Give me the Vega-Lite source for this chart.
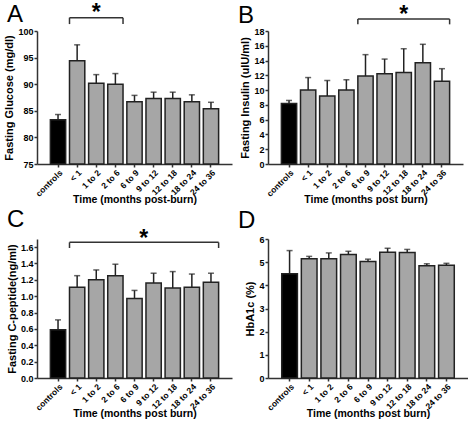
{
  "$schema": "https://vega.github.io/schema/vega-lite/v6.json",
  "autosize": {"type": "pad"},
  "padding": {"left": 3, "top": 2, "right": 0, "bottom": 0},
  "bounds": "flush",
  "columns": 2,
  "spacing": {"row": 75, "column": 36},
  "datasets": {
    "bars": [
      {"panel": "A", "group": "controls", "mean": 83.3, "upper": 84.3},
      {"panel": "A", "group": "< 1", "mean": 94.4, "upper": 97.4},
      {"panel": "A", "group": "1 to 2", "mean": 90.2, "upper": 91.8},
      {"panel": "A", "group": "2 to 6", "mean": 90.0, "upper": 92.0},
      {"panel": "A", "group": "6 to 9", "mean": 86.7, "upper": 87.9},
      {"panel": "A", "group": "9 to 12", "mean": 87.3, "upper": 88.5},
      {"panel": "A", "group": "12 to 18", "mean": 87.3, "upper": 88.5},
      {"panel": "A", "group": "18 to 24", "mean": 86.7, "upper": 88.0},
      {"panel": "A", "group": "24 to 36", "mean": 85.4, "upper": 86.6},
      {"panel": "B", "group": "controls", "mean": 8.2, "upper": 8.6},
      {"panel": "B", "group": "< 1", "mean": 10.0, "upper": 11.7},
      {"panel": "B", "group": "1 to 2", "mean": 9.2, "upper": 11.3},
      {"panel": "B", "group": "2 to 6", "mean": 10.0, "upper": 11.4},
      {"panel": "B", "group": "6 to 9", "mean": 11.9, "upper": 14.8},
      {"panel": "B", "group": "9 to 12", "mean": 12.2, "upper": 14.2},
      {"panel": "B", "group": "12 to 18", "mean": 12.4, "upper": 15.6},
      {"panel": "B", "group": "18 to 24", "mean": 13.7, "upper": 16.2},
      {"panel": "B", "group": "24 to 36", "mean": 11.2, "upper": 12.9},
      {"panel": "C", "group": "controls", "mean": 0.59, "upper": 0.71},
      {"panel": "C", "group": "< 1", "mean": 1.11, "upper": 1.25},
      {"panel": "C", "group": "1 to 2", "mean": 1.20, "upper": 1.32},
      {"panel": "C", "group": "2 to 6", "mean": 1.25, "upper": 1.39},
      {"panel": "C", "group": "6 to 9", "mean": 0.97, "upper": 1.07},
      {"panel": "C", "group": "9 to 12", "mean": 1.16, "upper": 1.28},
      {"panel": "C", "group": "12 to 18", "mean": 1.10, "upper": 1.30},
      {"panel": "C", "group": "18 to 24", "mean": 1.11, "upper": 1.27},
      {"panel": "C", "group": "24 to 36", "mean": 1.17, "upper": 1.28},
      {"panel": "D", "group": "controls", "mean": 4.5, "upper": 5.5},
      {"panel": "D", "group": "< 1", "mean": 5.15, "upper": 5.25},
      {"panel": "D", "group": "1 to 2", "mean": 5.15, "upper": 5.4},
      {"panel": "D", "group": "2 to 6", "mean": 5.33, "upper": 5.47},
      {"panel": "D", "group": "6 to 9", "mean": 5.03, "upper": 5.13},
      {"panel": "D", "group": "9 to 12", "mean": 5.43, "upper": 5.6},
      {"panel": "D", "group": "12 to 18", "mean": 5.42, "upper": 5.55},
      {"panel": "D", "group": "18 to 24", "mean": 4.85, "upper": 4.93},
      {"panel": "D", "group": "24 to 36", "mean": 4.87, "upper": 4.95}
    ],
    "brackets": [
      {"panel": "A", "from": "< 1", "to": "2 to 6", "mid": "1 to 2", "yl": 102.5, "yt": 101.3, "ys": 103.3},
      {"panel": "B", "from": "6 to 9", "to": "24 to 36", "mid": "12 to 18", "yl": 19.62, "yt": 18.9, "ys": 20.2},
      {"panel": "C", "from": "< 1", "to": "24 to 36", "mid": "6 to 9", "yl": 1.657, "yt": 1.588, "ys": 1.695}
    ]
  },
  "concat": [
    {
      "title": {"text": "A", "offset": -25},
      "width": 195, "height": 133,
      "layer": [
        {
          "data": {"name": "bars"},
          "transform": [{"filter": "datum.panel === 'A'"}],
          "layer": [
            {"mark": {"type": "bar", "stroke": "#222", "strokeWidth": 1.5},
             "encoding": {
               "x": {"field": "group", "type": "nominal", "scale": {"domain": ["controls", "< 1", "1 to 2", "2 to 6", "6 to 9", "9 to 12", "12 to 18", "18 to 24", "24 to 36"], "paddingInner": 0.2, "paddingOuter": 0.7}, "title": "Time (months post-burn)"},
               "y": {"field": "mean", "type": "quantitative", "scale": {"domain": [75, 100], "zero": false, "nice": false}, "axis": {"values": [75, 80, 85, 90, 95, 100], "tickCount": 30, "format": "d", "labelOverlap": false}, "title": "Fasting Glucose (mg/dl)"},
               "y2": {"datum": 75},
               "fill": {"condition": {"test": "datum.group === 'controls'", "value": "#000000"}, "value": "#a6a6a6"}
             }},
            {"mark": {"type": "rule", "color": "#222", "strokeWidth": 1.5},
             "encoding": {
               "x": {"field": "group", "type": "nominal", "title": "Time (months post-burn)"},
               "y": {"field": "mean", "type": "quantitative", "title": "Fasting Glucose (mg/dl)"},
               "y2": {"field": "upper"}
             }},
            {"mark": {"type": "tick", "color": "#222", "thickness": 1.5, "size": 6},
             "encoding": {
               "x": {"field": "group", "type": "nominal", "title": "Time (months post-burn)"},
               "y": {"field": "upper", "type": "quantitative", "title": "Fasting Glucose (mg/dl)"}
             }}
          ]
        },
        {
          "data": {"name": "brackets"},
          "transform": [{"filter": "datum.panel === 'A'"}],
          "layer": [
            {"mark": {"type": "rule", "color": "#333", "strokeWidth": 1.5},
             "encoding": {
               "x": {"field": "from", "type": "nominal", "bandPosition": 0, "title": "Time (months post-burn)"},
               "x2": {"field": "to", "bandPosition": 1},
               "y": {"field": "yl", "type": "quantitative", "title": "Fasting Glucose (mg/dl)"}
             }},
            {"mark": {"type": "rule", "color": "#333", "strokeWidth": 1.5},
             "encoding": {
               "x": {"field": "from", "type": "nominal", "bandPosition": 0, "title": "Time (months post-burn)"},
               "y": {"field": "yl", "type": "quantitative", "title": "Fasting Glucose (mg/dl)"},
               "y2": {"field": "yt"}
             }},
            {"mark": {"type": "rule", "color": "#333", "strokeWidth": 1.5},
             "encoding": {
               "x": {"field": "to", "type": "nominal", "bandPosition": 1, "title": "Time (months post-burn)"},
               "y": {"field": "yl", "type": "quantitative", "title": "Fasting Glucose (mg/dl)"},
               "y2": {"field": "yt"}
             }},
            {"mark": {"type": "text", "text": "*", "fontSize": 23, "fontWeight": "bold", "baseline": "middle", "color": "#000"},
             "encoding": {
               "x": {"field": "mid", "type": "nominal", "bandPosition": 0.5, "title": "Time (months post-burn)"},
               "y": {"field": "ys", "type": "quantitative", "title": "Fasting Glucose (mg/dl)"}
             }}
          ]
        }
      ]
    },
    {
      "title": {"text": "B", "offset": -24},
      "width": 195, "height": 133,
      "layer": [
        {
          "data": {"name": "bars"},
          "transform": [{"filter": "datum.panel === 'B'"}],
          "layer": [
            {"mark": {"type": "bar", "stroke": "#222", "strokeWidth": 1.5},
             "encoding": {
               "x": {"field": "group", "type": "nominal", "scale": {"domain": ["controls", "< 1", "1 to 2", "2 to 6", "6 to 9", "9 to 12", "12 to 18", "18 to 24", "24 to 36"], "paddingInner": 0.2, "paddingOuter": 0.7}, "title": "Time (months post burn)"},
               "y": {"field": "mean", "type": "quantitative", "scale": {"domain": [0, 18], "nice": false}, "axis": {"values": [0, 2, 4, 6, 8, 10, 12, 14, 16, 18], "tickCount": 30, "format": "d", "labelOverlap": false}, "title": "Fasting Insulin (uIU/ml)"},
               "fill": {"condition": {"test": "datum.group === 'controls'", "value": "#000000"}, "value": "#a6a6a6"}
             }},
            {"mark": {"type": "rule", "color": "#222", "strokeWidth": 1.5},
             "encoding": {
               "x": {"field": "group", "type": "nominal", "title": "Time (months post burn)"},
               "y": {"field": "mean", "type": "quantitative", "title": "Fasting Insulin (uIU/ml)"},
               "y2": {"field": "upper"}
             }},
            {"mark": {"type": "tick", "color": "#222", "thickness": 1.5, "size": 6},
             "encoding": {
               "x": {"field": "group", "type": "nominal", "title": "Time (months post burn)"},
               "y": {"field": "upper", "type": "quantitative", "title": "Fasting Insulin (uIU/ml)"}
             }}
          ]
        },
        {
          "data": {"name": "brackets"},
          "transform": [{"filter": "datum.panel === 'B'"}],
          "layer": [
            {"mark": {"type": "rule", "color": "#333", "strokeWidth": 1.5},
             "encoding": {
               "x": {"field": "from", "type": "nominal", "bandPosition": 0, "title": "Time (months post burn)"},
               "x2": {"field": "to", "bandPosition": 1},
               "y": {"field": "yl", "type": "quantitative", "title": "Fasting Insulin (uIU/ml)"}
             }},
            {"mark": {"type": "rule", "color": "#333", "strokeWidth": 1.5},
             "encoding": {
               "x": {"field": "from", "type": "nominal", "bandPosition": 0, "title": "Time (months post burn)"},
               "y": {"field": "yl", "type": "quantitative", "title": "Fasting Insulin (uIU/ml)"},
               "y2": {"field": "yt"}
             }},
            {"mark": {"type": "rule", "color": "#333", "strokeWidth": 1.5},
             "encoding": {
               "x": {"field": "to", "type": "nominal", "bandPosition": 1, "title": "Time (months post burn)"},
               "y": {"field": "yl", "type": "quantitative", "title": "Fasting Insulin (uIU/ml)"},
               "y2": {"field": "yt"}
             }},
            {"mark": {"type": "text", "text": "*", "fontSize": 23, "fontWeight": "bold", "baseline": "middle", "color": "#000"},
             "encoding": {
               "x": {"field": "mid", "type": "nominal", "bandPosition": 0.5, "title": "Time (months post burn)"},
               "y": {"field": "ys", "type": "quantitative", "title": "Fasting Insulin (uIU/ml)"}
             }}
          ]
        }
      ]
    },
    {
      "title": {"text": "C", "offset": -4},
      "width": 195, "height": 139,
      "layer": [
        {
          "data": {"name": "bars"},
          "transform": [{"filter": "datum.panel === 'C'"}],
          "layer": [
            {"mark": {"type": "bar", "stroke": "#222", "strokeWidth": 1.5},
             "encoding": {
               "x": {"field": "group", "type": "nominal", "scale": {"domain": ["controls", "< 1", "1 to 2", "2 to 6", "6 to 9", "9 to 12", "12 to 18", "18 to 24", "24 to 36"], "paddingInner": 0.2, "paddingOuter": 0.7}, "title": "Time (months post burn)"},
               "y": {"field": "mean", "type": "quantitative", "scale": {"domain": [0, 1.698], "nice": false}, "axis": {"values": [0, 0.2, 0.4, 0.6, 0.8, 1.0, 1.2, 1.4, 1.6], "format": ".1f", "tickCount": 30, "labelOverlap": false}, "title": "Fasting C-peptide(ng/ml)"},
               "fill": {"condition": {"test": "datum.group === 'controls'", "value": "#000000"}, "value": "#a6a6a6"}
             }},
            {"mark": {"type": "rule", "color": "#222", "strokeWidth": 1.5},
             "encoding": {
               "x": {"field": "group", "type": "nominal", "title": "Time (months post burn)"},
               "y": {"field": "mean", "type": "quantitative", "title": "Fasting C-peptide(ng/ml)"},
               "y2": {"field": "upper"}
             }},
            {"mark": {"type": "tick", "color": "#222", "thickness": 1.5, "size": 6},
             "encoding": {
               "x": {"field": "group", "type": "nominal", "title": "Time (months post burn)"},
               "y": {"field": "upper", "type": "quantitative", "title": "Fasting C-peptide(ng/ml)"}
             }}
          ]
        },
        {
          "data": {"name": "brackets"},
          "transform": [{"filter": "datum.panel === 'C'"}],
          "layer": [
            {"mark": {"type": "rule", "color": "#333", "strokeWidth": 1.5},
             "encoding": {
               "x": {"field": "from", "type": "nominal", "bandPosition": 0, "title": "Time (months post burn)"},
               "x2": {"field": "to", "bandPosition": 1},
               "y": {"field": "yl", "type": "quantitative", "title": "Fasting C-peptide(ng/ml)"}
             }},
            {"mark": {"type": "rule", "color": "#333", "strokeWidth": 1.5},
             "encoding": {
               "x": {"field": "from", "type": "nominal", "bandPosition": 0, "title": "Time (months post burn)"},
               "y": {"field": "yl", "type": "quantitative", "title": "Fasting C-peptide(ng/ml)"},
               "y2": {"field": "yt"}
             }},
            {"mark": {"type": "rule", "color": "#333", "strokeWidth": 1.5},
             "encoding": {
               "x": {"field": "to", "type": "nominal", "bandPosition": 1, "title": "Time (months post burn)"},
               "y": {"field": "yl", "type": "quantitative", "title": "Fasting C-peptide(ng/ml)"},
               "y2": {"field": "yt"}
             }},
            {"mark": {"type": "text", "text": "*", "fontSize": 23, "fontWeight": "bold", "baseline": "middle", "color": "#000"},
             "encoding": {
               "x": {"field": "mid", "type": "nominal", "bandPosition": 1.1, "title": "Time (months post burn)"},
               "y": {"field": "ys", "type": "quantitative", "title": "Fasting C-peptide(ng/ml)"}
             }}
          ]
        }
      ]
    },
    {
      "title": {"text": "D", "offset": 2},
      "width": 200, "height": 139,
      "data": {"name": "bars"},
      "transform": [{"filter": "datum.panel === 'D'"}],
      "layer": [
        {"mark": {"type": "bar", "stroke": "#222", "strokeWidth": 1.5},
         "encoding": {
           "x": {"field": "group", "type": "nominal", "scale": {"domain": ["controls", "< 1", "1 to 2", "2 to 6", "6 to 9", "9 to 12", "12 to 18", "18 to 24", "24 to 36"], "paddingInner": 0.2, "paddingOuter": 0.7}, "title": "Time (months post burn)"},
           "y": {"field": "mean", "type": "quantitative", "scale": {"domain": [0, 6], "nice": false}, "axis": {"values": [0, 1, 2, 3, 4, 5, 6], "tickCount": 30, "format": "d", "labelOverlap": false}, "title": "HbA1c (%)"},
           "fill": {"condition": {"test": "datum.group === 'controls'", "value": "#000000"}, "value": "#a6a6a6"}
         }},
        {"mark": {"type": "rule", "color": "#222", "strokeWidth": 1.5},
         "encoding": {
           "x": {"field": "group", "type": "nominal", "title": "Time (months post burn)"},
           "y": {"field": "mean", "type": "quantitative", "title": "HbA1c (%)"},
           "y2": {"field": "upper"}
         }},
        {"mark": {"type": "tick", "color": "#222", "thickness": 1.5, "size": 6},
         "encoding": {
           "x": {"field": "group", "type": "nominal", "title": "Time (months post burn)"},
           "y": {"field": "upper", "type": "quantitative", "title": "HbA1c (%)"}
         }}
      ]
    }
  ],
  "config": {
    "font": "Liberation Sans",
    "view": {"stroke": null},
    "axis": {
      "grid": false,
      "domainColor": "#333",
      "domainWidth": 1.5,
      "tickColor": "#333",
      "tickWidth": 1.5,
      "labelColor": "#000",
      "titleColor": "#000",
      "labelFont": "Liberation Sans",
      "titleFont": "Liberation Sans",
      "labelFontWeight": "bold",
      "titleFontWeight": "bold",
      "labelFontSize": 9,
      "titleFontSize": 11
    },
    "axisX": {"labelAngle": -45, "tickSize": 3, "labelPadding": 1, "titlePadding": -3, "titleFontSize": 10.5, "labelFontSize": 8.5},
    "axisY": {"tickSize": 3, "labelPadding": 1, "titlePadding": 3, "labelOverlap": false},
    "title": {"anchor": "start", "frame": "group", "fontSize": 24, "fontWeight": "normal", "font": "Liberation Sans", "color": "#000", "dx": -30, "baseline": "alphabetic"}
  }
}
